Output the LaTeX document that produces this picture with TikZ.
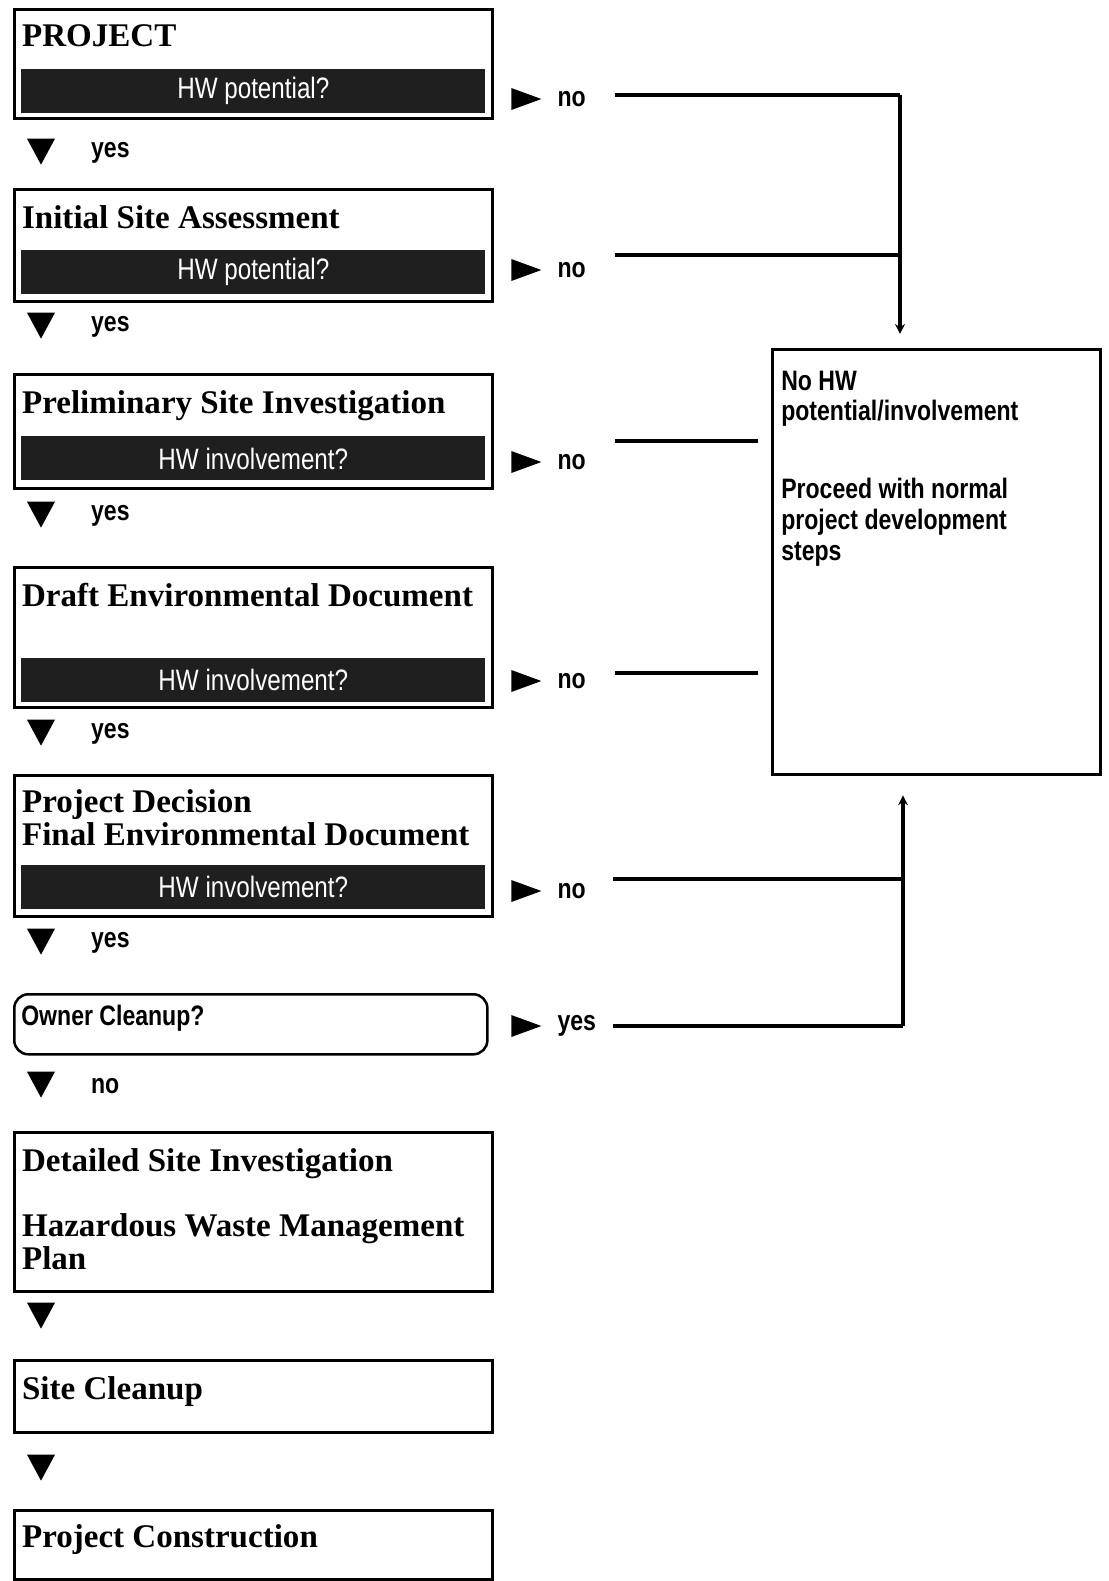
\documentclass[tikz,border=0pt]{standalone}
\usepackage{fontspec}
\setmainfont{Liberation Serif}
\newfontfamily\hwsans[FakeStretch=0.82]{Liberation Sans}
\usetikzlibrary{shapes.geometric, arrows.meta, positioning, calc}

\begin{document}
\begin{tikzpicture}[
        x=0.025cm, y=-0.025cm,
        stage/.style={draw, line width=1.8pt, anchor=north west, minimum width=11.95cm, inner sep=0pt},
        query/.style={fill=black!88, text=white, minimum width=11.6cm, minimum height=1.1cm, inner sep=0pt, font=\hwsans\fontsize{21}{22}\selectfont},
        title/.style={anchor=base west, inner sep=0pt, align=left, font=\bfseries\fontsize{23.5}{23.5}\selectfont},
        answer/.style={inner sep=0pt, font=\hwsans\bfseries\fontsize{20}{22}\selectfont},
        downans/.style={answer, yshift=-4pt},
        downmark/.style={fill, isosceles triangle, isosceles triangle stretches, shape border rotate=270, minimum width=0.7cm, minimum height=0.65cm, inner sep=0pt},
        sidemark/.style={fill, isosceles triangle, isosceles triangle stretches, minimum width=0.55cm, minimum height=0.75cm, inner sep=0pt},
        link/.style={line width=2.4pt},
        tip/.style={-{Stealth[length=7pt, width=7pt]}}
    ]
        \useasboundingbox (0,0) rectangle (1109,1581);

        % Project
        \node[stage, minimum height=2.725cm] (proj) at (13,8) {};
        \node[title] (projt) at ([shift={(0.22cm,-0.95cm)}]proj.north west) {PROJECT};
        \node[query, above=0.15cm of proj.south] (projq) {HW potential?};
        \node[sidemark] (pm1) at (519,99) {};
        \node[answer, right=0.38cm of pm1] (no1) {no};
        \node[downmark] (dm1) at (41,147) {};
        \node[downans, right=1.0cm of dm1] (yes1) {yes};

        % Initial site assessment
        \node[stage, minimum height=2.8cm] (isa) at (13,188) {};
        \node[title] (isat) at ([shift={(0.22cm,-1.02cm)}]isa.north west) {Initial Site Assessment};
        \node[query, above=0.2cm of isa.south] (isaq) {HW potential?};
        \node[sidemark] (pm2) at (519,270) {};
        \node[answer, right=0.38cm of pm2] (no2) {no};
        \node[downmark] (dm2) at (41,321) {};
        \node[downans, right=1.0cm of dm2] (yes2) {yes};

        % Preliminary site investigation
        \node[stage, minimum height=2.85cm] (psi) at (13,373) {};
        \node[title] (psit) at ([shift={(0.22cm,-1.02cm)}]psi.north west) {Preliminary Site Investigation};
        \node[query, above=0.22cm of psi.south] (psiq) {HW involvement?};
        \node[sidemark] (pm3) at (519,462) {};
        \node[answer, right=0.38cm of pm3] (no3) {no};
        \node[downmark] (dm3) at (41,510) {};
        \node[downans, right=1.0cm of dm3] (yes3) {yes};

        % Draft environmental document
        \node[stage, minimum height=3.5cm] (draft) at (13,566) {};
        \node[title] (draftt) at ([shift={(0.22cm,-1.02cm)}]draft.north west) {Draft Environmental Document};
        \node[query, above=0.15cm of draft.south] (draftq) {HW involvement?};
        \node[sidemark] (pm4) at (519,681) {};
        \node[answer, right=0.38cm of pm4] (no4) {no};
        \node[downmark] (dm4) at (41,728) {};
        \node[downans, right=1.0cm of dm4] (yes4) {yes};

        % Project decision
        \node[stage, minimum height=3.525cm] (dec) at (13,774) {};
        \node[title] (dect) at ([shift={(0.22cm,-0.97cm-23.5pt)}]dec.north west) {Project Decision\\Final Environmental Document};
        \node[query, above=0.2cm of dec.south] (decq) {HW involvement?};
        \node[sidemark] (pm5) at (519,891) {};
        \node[answer, right=0.38cm of pm5] (no5) {no};
        \node[downmark] (dm5) at (41,937) {};
        \node[downans, right=1.0cm of dm5] (yes5) {yes};

        % Owner cleanup
        \node[stage, rounded corners=10pt, minimum width=11.825cm, minimum height=1.5cm] (owner) at (13,993) {};
        \node[title, font=\hwsans\bfseries\fontsize{20}{22}\selectfont] (ownert) at ([shift={(0.2cm,-0.8cm)}]owner.north west) {Owner Cleanup?};
        \node[sidemark] (pm6) at (519,1026) {};
        \node[answer, right=0.38cm of pm6] (yes6) {yes};
        \node[downmark] (dm6) at (41,1080) {};
        \node[downans, right=1.0cm of dm6] (no6) {no};

        % Cleanup and construction
        \node[stage, minimum height=3.975cm] (dsi) at (13,1131) {};
        \node[title] (dsit) at ([shift={(0.22cm,-1.0cm-70pt)}]dsi.north west) {Detailed Site Investigation\\[23pt]Hazardous Waste Management\\Plan};
        \node[downmark] (dm7) at (41,1311) {};
        \node[stage, minimum height=1.8cm] (clean) at (13,1359) {};
        \node[title] (cleant) at ([shift={(0.22cm,-1.0cm)}]clean.north west) {Site Cleanup};
        \node[downmark] (dm8) at (41,1463) {};
        \node[stage, minimum height=1.725cm] (build) at (13,1509) {};
        \node[title] (buildt) at ([shift={(0.22cm,-0.95cm)}]build.north west) {Project Construction};

        % No HW box
        \node[stage, minimum width=8.2cm, minimum height=10.625cm] (note) at (771,348) {};
        \node[title, font=\hwsans\bfseries\fontsize{20}{22}\selectfont] (notet) at ([shift={(0.25cm,-1.05cm-121pt)}]note.north west) {No HW\\potential/involvement\\[33pt]Proceed with normal\\project development\\steps};

        % Connectors
        \coordinate (j1) at (615,95);
        \coordinate (j2) at (615,255);
        \coordinate (j3) at (615,441);
        \coordinate (j4) at (615,673);
        \coordinate (j5) at (613,879);
        \coordinate (j6) at (613,1026);
        \coordinate (jtop) at (900,95);
        \coordinate (jbot) at (903,1026);

        \draw[link] (j1) -- (jtop);
        \draw[link] (j2) -- (j2 -| jtop);
        \draw[link, tip, shorten >=10pt] (jtop) -- (jtop |- note.north);
        \draw[link, shorten >=9pt] (j3) -- (j3 -| note.west);
        \draw[link, shorten >=9pt] (j4) -- (j4 -| note.west);
        \draw[link] (j6) -- (jbot);
        \draw[link] (j5) -- (j5 -| jbot);
        \draw[link, tip, shorten >=14pt] (jbot) -- (jbot |- note.south);
    \end{tikzpicture}
\end{document}
